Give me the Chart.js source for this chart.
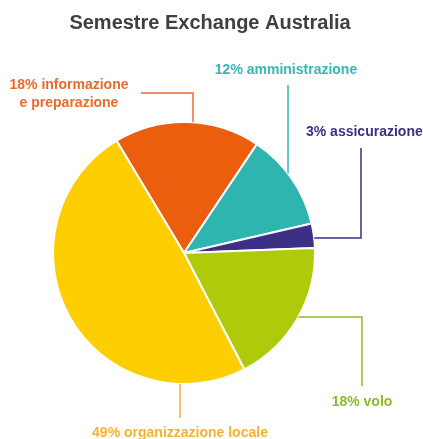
<!DOCTYPE html>
<html>
<head>
<meta charset="utf-8">
<script src="https://cdn.jsdelivr.net/npm/chart.js@4/dist/chart.umd.min.js"></script>
<style>
  html, body { margin: 0; padding: 0; background: #fff; }
  canvas { display: block; }
</style>
</head>
<body>
<canvas id="pieChart" width="423" height="439"></canvas>
<script>
const chartTitle = 'Semestre Exchange Australia';
const categories = ['informazione e preparazione', 'amministrazione', 'assicurazione', 'volo', 'organizzazione locale'];
const shares = [18, 12, 3, 18, 49];
const sliceColors = ['#EA5E0E', '#2FB5B0', '#3B2F86', '#AFCA0B', '#FFCE00'];
const labelColors = ['#EA6A2C', '#37B7B3', '#3B2F86', '#8DBB2A', '#F6B22C'];

// where each label sits and how its leader line runs to the pie edge
const labelLayout = [
    { lines: ['18% informazione', 'e preparazione'], x: 69, y: 85, align: 'center', path: [[141, 93], [193, 93]], end: 'v' },
    { lines: ['12% amministrazione'], x: 286, y: 70, align: 'center', path: [[288, 85]], end: 'v' },
    { lines: ['3% assicurazione'], x: 306, y: 132, align: 'left', path: [[361, 148], [361, 238]], end: 'h' },
    { lines: ['18% volo'], x: 362, y: 402, align: 'center', path: [[362, 386], [362, 317]], end: 'h' },
    { lines: ['49% organizzazione locale'], x: 180, y: 433, align: 'center', path: [[180, 418]], end: 'v' }
];

const calloutPlugin = {
    id: 'callouts',
    afterDatasetsDraw(chart) {
        const ctx = chart.ctx;
        const arc = chart.getDatasetMeta(0).data[0];
        const cx = arc.x, cy = arc.y, r = arc.outerRadius;

        ctx.save();
        ctx.fillStyle = '#404040';
        ctx.font = 'bold 20px "Liberation Sans", Arial, sans-serif';
        ctx.textAlign = 'center';
        ctx.textBaseline = 'middle';
        ctx.fillText(chartTitle, 210, 23);

        labelLayout.forEach((lab, i) => {
            const pts = lab.path.map(p => p.slice());
            const last = pts[pts.length - 1];
            if (lab.end === 'v') {
                const dx = last[0] - cx;
                const h = Math.sqrt(Math.max(r * r - dx * dx, 0));
                pts.push([last[0], last[1] < cy ? cy - h : cy + h]);
            } else {
                const dy = last[1] - cy;
                const w = Math.sqrt(Math.max(r * r - dy * dy, 0));
                pts.push([last[0] < cx ? cx - w : cx + w, last[1]]);
            }
            ctx.strokeStyle = labelColors[i];
            ctx.lineWidth = 1.5;
            ctx.beginPath();
            pts.forEach((p, k) => k ? ctx.lineTo(p[0], p[1]) : ctx.moveTo(p[0], p[1]));
            ctx.stroke();

            ctx.fillStyle = labelColors[i];
            ctx.font = 'bold 14px "Liberation Sans", Arial, sans-serif';
            ctx.textAlign = lab.align;
            lab.lines.forEach((t, k) => ctx.fillText(t, lab.x, lab.y + k * 18));
        });
        ctx.restore();
    }
};

new Chart(document.getElementById('pieChart'), {
    type: 'pie',
    data: {
        labels: categories,
        datasets: [{
            data: shares,
            backgroundColor: sliceColors,
            borderColor: '#ffffff',
            borderWidth: 2,
            radius: 131
        }]
    },
    options: {
        responsive: false,
        devicePixelRatio: 1,
        animation: false,
        rotation: -31,
        layout: {
            padding: { left: 50, right: 105, top: 119, bottom: 52 }
        },
        plugins: {
            legend: { display: false },
            tooltip: { enabled: false },
            title: { display: false }
        }
    },
    plugins: [calloutPlugin]
});
</script>
</body>
</html>
